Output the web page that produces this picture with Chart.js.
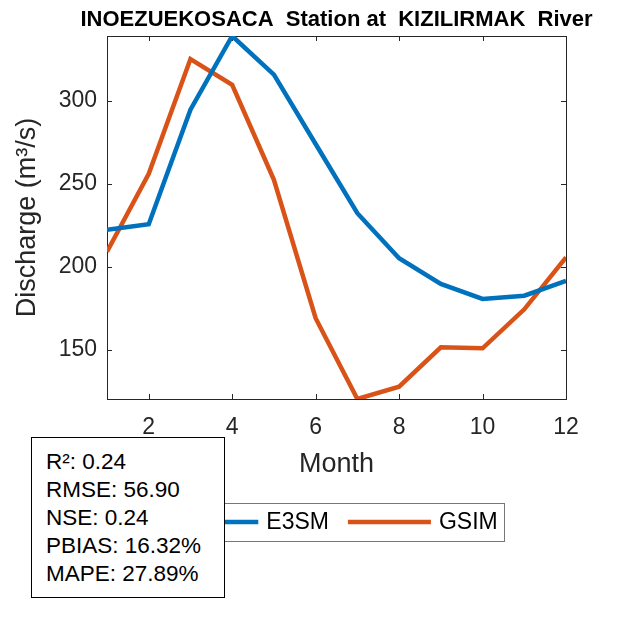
<!DOCTYPE html>
<html>
<head>
<meta charset="utf-8">
<script src="https://cdn.jsdelivr.net/npm/chart.js@4.4.0/dist/chart.umd.min.js"></script>
<style>
  body { margin: 0; background: #fff; }
  #wrap { position: relative; width: 625px; height: 625px; }
  #stats {
    position: absolute; left: 31px; top: 437px; width: 194px; height: 161px;
    box-sizing: border-box; border: 1px solid #000; background: #fff;
    padding: 10px 0 0 14px; color: #000;
    font: 22.5px "Liberation Sans", Arial, sans-serif; line-height: 28px;
  }
</style>
</head>
<body>
<div id="wrap">
  <canvas id="chart" width="625" height="625"></canvas>
  <div id="stats"></div>
</div>
<script>
// monthly discharge values
const months = [1, 2, 3, 4, 5, 6, 7, 8, 9, 10, 11, 12];
const e3sm = [222.3, 225.7, 294.6, 339, 315.7, 274, 232.3, 205.2, 189.8, 180.7, 182.7, 191.6];
const gsim = [209.2, 256, 325.1, 309.6, 252.4, 169.1, 120.5, 127.9, 151.6, 151, 174.5, 205.8];
const seriesNames = ['E3SM', 'GSIM'];
const seriesColors = ['#0072BD', '#D95319'];
const xTicks = [2, 4, 6, 8, 10, 12];
const yTicks = [150, 200, 250, 300];
const statNames = ['R²', 'RMSE', 'NSE', 'PBIAS', 'MAPE'];
const statValues = ['0.24', '56.90', '0.24', '16.32%', '27.89%'];

const titleText = 'INOEZUEKOSACA  Station at  KIZILIRMAK  River';
const FONT = '"Liberation Sans", Arial, sans-serif';
const AXIS_COLOR = '#262626';

document.getElementById('stats').innerHTML =
  statNames.map((n, i) => '<div>' + n + ': ' + statValues[i] + '</div>').join('');

// axis tight, like matlab
const allVals = e3sm.concat(gsim);
const yMin = Math.min(...allVals);
const yMax = Math.max(...allVals);

const extras = {
  id: 'extras',
  beforeDatasetsDraw(chart) {
    const { ctx, chartArea: a, scales } = chart;
    ctx.save();
    ctx.strokeStyle = AXIS_COLOR;
    ctx.lineWidth = 1;
    ctx.strokeRect(a.left + 0.5, a.top + 0.5, a.right - a.left, a.bottom - a.top);
    ctx.beginPath();
    xTicks.forEach(t => {
      const x = Math.round(scales.x.getPixelForValue(t)) + 0.5;
      ctx.moveTo(x, a.bottom); ctx.lineTo(x, a.bottom - 5);
      ctx.moveTo(x, a.top); ctx.lineTo(x, a.top + 5);
    });
    yTicks.forEach(t => {
      const y = Math.round(scales.y.getPixelForValue(t)) + 0.5;
      ctx.moveTo(a.left, y); ctx.lineTo(a.left + 5, y);
      ctx.moveTo(a.right, y); ctx.lineTo(a.right - 5, y);
    });
    ctx.stroke();
    ctx.restore();
  },
  afterDraw(chart) {
    const { ctx, chartArea: a } = chart;
    const cx = (a.left + a.right) / 2;
    ctx.save();
    // title
    ctx.fillStyle = '#000';
    ctx.font = 'bold 22px ' + FONT;
    ctx.textAlign = 'center';
    ctx.textBaseline = 'middle';
    ctx.fillText(titleText, cx, 20);
    // axis labels
    ctx.fillStyle = AXIS_COLOR;
    ctx.font = '27px ' + FONT;
    ctx.fillText('Month', cx, 465);
    ctx.save();
    ctx.translate(28, (a.top + a.bottom) / 2);
    ctx.rotate(-Math.PI / 2);
    ctx.fillText('Discharge (m³/s)', 0, 0);
    ctx.restore();
    // legend
    ctx.font = '23px ' + FONT;
    const lineLen = 83, textGap = 8, itemGap = 19, pad = 7;
    const widths = chart.data.datasets.map(d => ctx.measureText(d.label).width);
    let total = pad * 2;
    widths.forEach((w, i) => { total += lineLen + textGap + w + (i > 0 ? itemGap : 0); });
    const lx = cx - total / 2, ly = 503, lh = 38;
    ctx.fillStyle = '#fff';
    ctx.fillRect(lx, ly, total, lh);
    ctx.strokeStyle = '#777';
    ctx.lineWidth = 1;
    ctx.strokeRect(Math.round(lx) + 0.5, ly + 0.5, Math.round(total), lh);
    let x = lx + pad;
    const my = ly + lh / 2;
    chart.data.datasets.forEach((d, i) => {
      if (i > 0) x += itemGap;
      ctx.strokeStyle = d.borderColor;
      ctx.lineWidth = d.borderWidth;
      ctx.beginPath();
      ctx.moveTo(x, my); ctx.lineTo(x + lineLen, my);
      ctx.stroke();
      x += lineLen + textGap;
      ctx.fillStyle = '#000';
      ctx.textAlign = 'left';
      ctx.fillText(d.label, x, my + 1);
      x += widths[i];
    });
    ctx.restore();
  }
};

new Chart(document.getElementById('chart'), {
  type: 'line',
  data: {
    datasets: [
      { label: seriesNames[0], data: months.map((m, i) => ({ x: m, y: e3sm[i] })),
        borderColor: seriesColors[0], borderWidth: 4.5, pointRadius: 0, fill: false },
      { label: seriesNames[1], data: months.map((m, i) => ({ x: m, y: gsim[i] })),
        borderColor: seriesColors[1], borderWidth: 4.5, pointRadius: 0, fill: false }
    ]
  },
  options: {
    responsive: false,
    animation: false,
    devicePixelRatio: 1,
    layout: { padding: { top: 36, right: 59, left: 0, bottom: 0 } },
    plugins: { legend: { display: false }, title: { display: false }, tooltip: { enabled: false } },
    scales: {
      x: {
        type: 'linear', min: 1, max: 12,
        grid: { display: false, drawTicks: false },
        border: { display: false },
        afterBuildTicks: s => { s.ticks = xTicks.map(v => ({ value: v })); },
        afterFit: s => { s.height = 226; },
        ticks: { color: AXIS_COLOR, font: { family: FONT, size: 23 }, padding: 15, maxRotation: 0 }
      },
      y: {
        min: yMin, max: yMax,
        grid: { display: false, drawTicks: false },
        border: { display: false },
        afterBuildTicks: s => { s.ticks = yTicks.map(v => ({ value: v })); },
        afterFit: s => { s.width = 107; },
        ticks: { color: AXIS_COLOR, font: { family: FONT, size: 23 }, padding: 10 }
      }
    }
  },
  plugins: [extras]
});
</script>
</body>
</html>
